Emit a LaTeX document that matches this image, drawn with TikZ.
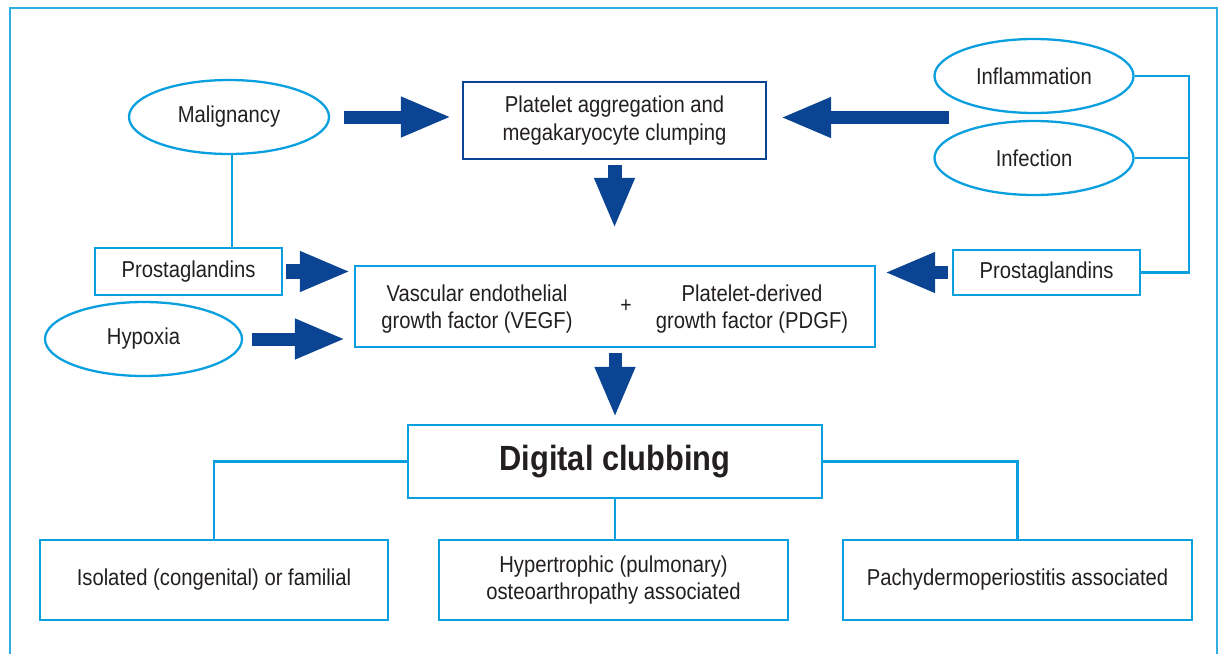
\documentclass[tikz,border=0pt]{standalone}
\usepackage{fontspec}
\setmainfont{Liberation Sans}[FakeStretch=0.88]
\usetikzlibrary{arrows.meta,shapes.geometric}
\definecolor{cyanline}{HTML}{0AA0DF}
\definecolor{navy}{HTML}{0B4492}
\definecolor{txt}{HTML}{231F20}
\begin{document}
\begin{tikzpicture}[x=1pt,y=-1pt,
  every node/.style={text=txt, font=\fontsize{23}{27.5}\selectfont, align=center, inner sep=0pt},
  oval/.style={ellipse, draw=cyanline, line width=2.3pt, minimum width=200pt, minimum height=74pt},
  box/.style={rectangle, draw=cyanline, line width=2.4pt},
  link/.style={draw=cyanline, line width=2.3pt},
  bigarrow/.style={navy, line width=13pt, -{Triangle[length=51pt,width=37pt]}},
  frame/.style={draw=cyanline!85, line width=1.8pt}]
\useasboundingbox (0,0) rectangle (1223,653);
\draw[frame] (10,665) -- (10,8) -- (1217,8) -- (1217,665);

% top row
\node[oval] (malig) at (229,117) {Malignancy};
\node[box, draw=navy, minimum width=303pt, minimum height=77pt] (plat) at (614.5,120.5) {Platelet aggregation and\\megakaryocyte clumping};
\node[oval, minimum width=199pt] (infl) at (1034,76) {Inflammation};
\node[oval, minimum width=199pt] (infec) at (1034,158) {Infection};

% middle row
\node[box, minimum width=187pt, minimum height=47pt] (prostL) at (188.5,271.5) {Prostaglandins};
\node[box, minimum width=187pt, minimum height=45pt] (prostR) at (1046.5,272.5) {Prostaglandins};
\node[oval, minimum width=197pt] (hyp) at (143.5,339) {Hypoxia};
\node[box, minimum width=520pt, minimum height=81pt] (mid) at (615,306.5) {};
\node (vegf) at (477,309) {Vascular endothelial\\growth factor (VEGF)};
\node[font=\fontsize{22}{26}\selectfont] (plus) at (626,306) {+};
\node (pdgf) at (752,309) {Platelet-derived\\growth factor (PDGF)};

% clubbing
\node[box, minimum width=414pt, minimum height=73pt, font=\fontsize{35}{40}\selectfont\bfseries] (dc) at (615,461.5) {Digital clubbing};

% bottom row
\node[box, minimum width=348pt, minimum height=80pt] (iso) at (214,580) {Isolated (congenital) or familial};
\node[box, minimum width=349pt, minimum height=80pt] (hoa) at (613.5,580) {Hypertrophic (pulmonary)\\osteoarthropathy associated};
\node[box, minimum width=349pt, minimum height=80pt] (pachy) at (1017.5,580) {Pachydermoperiostitis associated};

% thin connectors
\coordinate (bus) at (1189,0);
\draw[link] ([xshift=3pt]malig.south) -- ([xshift=3pt]malig.south |- prostL.north);
\draw[link] (infl.east) -- (infl.east -| bus) -- (bus |- prostR.east) -- (prostR.east);
\draw[link] (infec.east) -- (infec.east -| bus);
\draw[link] (dc.west) -| (iso.north);
\draw[link] (dc.east) -| (pachy.north);
\draw[link] (dc.south) -- (dc.south |- hoa.north);

% block arrows
\coordinate (rsrc) at (949,117.5);
\draw[bigarrow, shorten <=14pt, shorten >=10pt] (malig.east) -- (malig.east -| plat.west);
\draw[bigarrow, shorten >=13pt] (rsrc) -- (rsrc -| plat.east);
\draw[bigarrow, line width=14pt, shorten <=5pt, shorten >=36pt] (plat.south) -- (plat.south |- mid.north);
\draw[bigarrow, line width=15pt, shorten <=3pt, shorten >=3pt] (prostL.east) -- (prostL.east -| mid.west);
\draw[bigarrow, shorten <=9pt, shorten >=8pt] (hyp.east) -- (hyp.east -| mid.west);
\draw[bigarrow, shorten <=4pt, shorten >=8pt] (prostR.west) -- (prostR.west -| mid.east);
\draw[bigarrow, shorten <=5pt, shorten >=6pt] (mid.south) -- (mid.south |- dc.north);
\end{tikzpicture}
\end{document}
